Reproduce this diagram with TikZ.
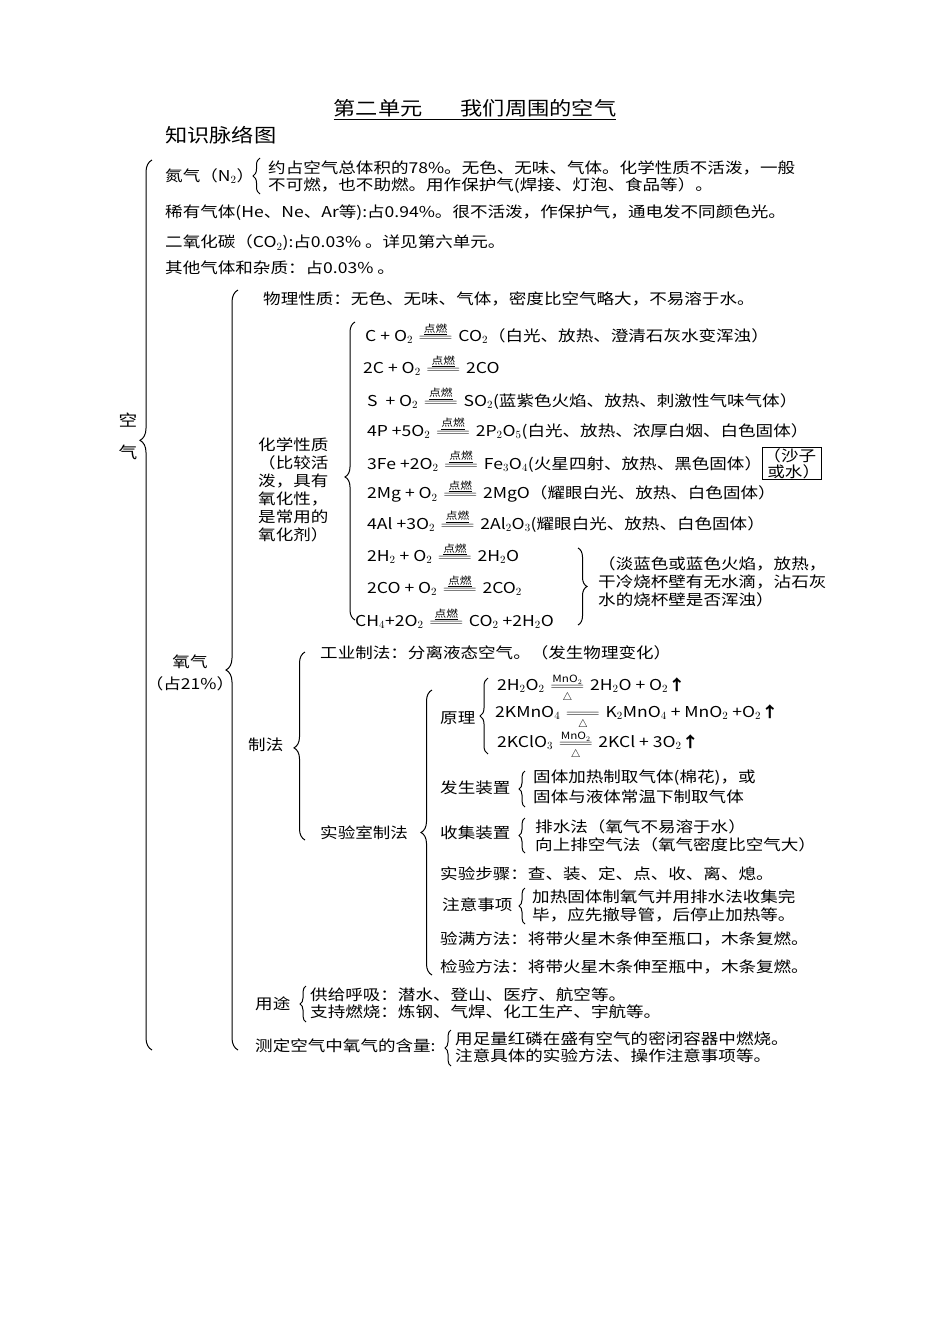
\documentclass[tikz,border=0pt]{standalone}
\usepackage{amsmath}
\usepackage{graphicx}
\usepackage{fontspec}
\setmainfont[FakeStretch=1.17]{Noto Sans CJK SC}
\usetikzlibrary{decorations.pathreplacing}
\newcommand\dbl{\resizebox{2.5em}{\height}{$=$}}
\newcommand\cond[1]{\ensuremath{\mathrel{\overset{\text{\fontsize{10}{10}\selectfont\underline{#1}}}{\dbl}}}}
\newcommand\condt[1]{\ensuremath{\mathrel{\underset{\text{\fontsize{11}{11}\selectfont$\triangle$}}{\overset{\text{\fontsize{10}{10}\selectfont #1}}{\dbl}}}}}
\newcommand\up{\textbf{↑}}
\tikzset{
  t/.style={anchor=west,inner sep=0pt,font=\fontsize{15}{18}\selectfont},
  lb/.style={decorate,decoration={brace,amplitude=#1},line width=1pt},
  lb/.default=9pt,
  box/.style={draw,inner sep=1pt,font=\fontsize{15}{16}\selectfont,align=left}
}
\begin{document}
\begin{tikzpicture}[x=1pt,y=-1pt]
\useasboundingbox (0,0) rectangle (950,1344);
\fill[white] (0,0) rectangle (950,1344);
% title
\node[inner sep=0,font=\fontsize{19}{19}\selectfont] (title) at (475,110) {\underline{第二单元\quad\quad 我们周围的空气}};
\node[t,font=\fontsize{19}{19}\selectfont] (sub) at (165,135) {知识脉络图};
% air
\draw[lb=12pt,decoration={aspect=0.685}] (152,1050) -- (152,160);
\node[inner sep=0,font=\fontsize{16}{16}\selectfont] (k1) at (128,420) {空};
\node[inner sep=0,font=\fontsize{16}{16}\selectfont] (k2) at (128,452) {气};
\node[t] (n2) at (165,176) {氮气（N$_2$）};
\draw[lb=7pt] (260,194) -- (260,158);
\node[t] (n2a) at (268,168) {约占空气总体积的78\%。无色、无味、气体。化学性质不活泼，一般};
\node[t] (n2b) at (268,186) {不可燃，也不助燃。用作保护气(焊接、灯泡、食品等）。};
\node[t] (rare) at (165,213) {稀有气体(He、Ne、Ar等):占0.94\%。很不活泼，作保护气，通电发不同颜色光。};
\node[t] (co2) at (165,243) {二氧化碳（CO$_2$):占0.03\% 。详见第六单元。};
\node[t] (oth) at (165,268) {其他气体和杂质：占0.03\% 。};
% oxygen
\draw[lb=12pt,decoration={aspect=0.5}] (238,1050) -- (238,290);
\node[inner sep=0,font=\fontsize{15}{15}\selectfont] (o2) at (190,662) {氧气};
\node[inner sep=0,font=\fontsize{15}{15}\selectfont] (o2p) at (190,684) {（占21\%）};
\node[t] (phys) at (263,299) {物理性质：无色、无味、气体，密度比空气略大，不易溶于水。};
% chemistry
\draw[lb=10pt,decoration={aspect=0.48}] (355,620) -- (355,322);
\node[anchor=north west,inner sep=0,align=left,font=\fontsize{15}{18}\selectfont] (chem) at (258,438) {化学性质\\（比较活\\泼，具有\\氧化性，\\是常用的\\氧化剂）};
\node[t] (e1) at (365,333) {C + O$_2$ \cond{点燃} CO$_2$（白光、放热、澄清石灰水变浑浊）};
\node[t] (e2) at (363,365) {2C + O$_2$ \cond{点燃} 2CO};
\node[t] (e3) at (367,398) {S \ + O$_2$ \cond{点燃} SO$_2$(蓝紫色火焰、放热、刺激性气味气体）};
\node[t] (e4) at (367,428) {4P +5O$_2$ \cond{点燃} 2P$_2$O$_5$(白光、放热、浓厚白烟、白色固体）};
\node[t] (e5) at (367,461) {3Fe +2O$_2$ \cond{点燃} Fe$_3$O$_4$(火星四射、放热、黑色固体）};
\node[box,anchor=north west] (sand) at (e5.east |- 0,447) {（沙子\\\ 或水）};
\node[t] (e6) at (367,491) {2Mg + O$_2$ \cond{点燃} 2MgO（耀眼白光、放热、白色固体）};
\node[t] (e7) at (367,521) {4Al +3O$_2$ \cond{点燃} 2Al$_2$O$_3$(耀眼白光、放热、白色固体）};
\node[t] (e8) at (367,553) {2H$_2$ + O$_2$ \cond{点燃} 2H$_2$O};
\node[t] (e9) at (367,585) {2CO + O$_2$ \cond{点燃} 2CO$_2$};
\node[t] (e10) at (355,618) {CH$_4$+2O$_2$ \cond{点燃} CO$_2$ +2H$_2$O};
\draw[lb=9pt] (578,548) -- (578,625);
\node[anchor=north west,inner sep=0,align=left,font=\fontsize{15}{18}\selectfont] (flame) at (598,556) {（淡蓝色或蓝色火焰，放热，\\干冷烧杯壁有无水滴，沾石灰\\水的烧杯壁是否浑浊）};
% preparation
\draw[lb=11pt,decoration={aspect=0.49}] (305,840) -- (305,652);
\node[t] (zf) at (248,745) {制法};
\node[t] (ind) at (320,653) {工业制法：分离液态空气。（发生物理变化）};
\node[t] (lab) at (320,833) {实验室制法};
\draw[lb=11pt,decoration={aspect=0.5}] (432,975) -- (432,690);
\node[t] (yl) at (440,718) {原理};
\draw[lb=8pt] (488,754) -- (488,678);
\node[t] (p1) at (497,689) {2H$_2$O$_2$ \condt{MnO$_2$} 2H$_2$O + O$_2$\up};
\node[t] (p2) at (495,718) {2KMnO$_4$ \condt{} K$_2$MnO$_4$ + MnO$_2$ +O$_2$\up};
\node[t] (p3) at (497,746) {2KClO$_3$ \condt{MnO$_2$} 2KCl + 3O$_2$\up};
\node[t] (fs) at (440,788) {发生装置};
\draw[lb=6pt] (525,807) -- (525,771);
\node[t] (fs1) at (533,778) {固体加热制取气体(棉花)，或};
\node[t] (fs2) at (533,797) {固体与液体常温下制取气体};
\node[t] (sj) at (440,833) {收集装置};
\draw[lb=6pt] (525,853) -- (525,818);
\node[t] (sj1) at (535,827) {排水法（氧气不易溶于水）};
\node[t] (sj2) at (535,845) {向上排空气法（氧气密度比空气大）};
\node[t] (bz) at (440,874) {实验步骤：查、装、定、点、收、离、熄。};
\node[t] (zy) at (442,905) {注意事项};
\draw[lb=6pt] (525,924) -- (525,888);
\node[t] (zy1) at (532,897) {加热固体制氧气并用排水法收集完};
\node[t] (zy2) at (532,915) {毕，应先撤导管，后停止加热等。};
\node[t] (ym) at (440,939) {验满方法：将带火星木条伸至瓶口，木条复燃。};
\node[t] (jy) at (440,967) {检验方法：将带火星木条伸至瓶中，木条复燃。};
% uses
\node[t] (yt) at (255,1004) {用途};
\draw[lb=6pt] (306,1022) -- (306,986);
\node[t] (yt1) at (310,995) {供给呼吸：潜水、登山、医疗、航空等。};
\node[t] (yt2) at (310,1012) {支持燃烧：炼钢、气焊、化工生产、宇航等。};
\node[t] (cd) at (255,1046) {测定空气中氧气的含量:};
\draw[lb=6pt] (451,1066) -- (451,1030);
\node[t] (cd1) at (455,1039) {用足量红磷在盛有空气的密闭容器中燃烧。};
\node[t] (cd2) at (455,1056) {注意具体的实验方法、操作注意事项等。};
\end{tikzpicture}
\end{document}
